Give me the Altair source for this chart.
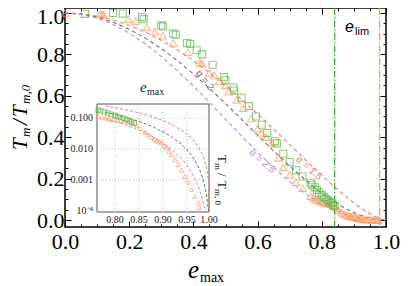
import altair as alt
import pandas as pd

SERIF = "Liberation Serif"
SANS = "Liberation Sans"

# ---------------- data ----------------
e_grid = [0.0, 0.05, 0.1, 0.15, 0.2, 0.25, 0.3, 0.35, 0.4, 0.45, 0.5, 0.55, 0.6, 0.65,
          0.7, 0.75, 0.78, 0.8, 0.82, 0.84, 0.86, 0.88, 0.9, 0.92, 0.94, 0.95, 0.96,
          0.97, 0.975, 0.98, 0.985, 0.99, 0.995, 0.999, 1.0]
T_alpha15 = [1.0, 0.99625, 0.98504, 0.96644, 0.94061, 0.90773, 0.86809, 0.822, 0.76987,
             0.71219, 0.64952, 0.58252, 0.512, 0.43886, 0.36421, 0.28938, 0.24506, 0.216,
             0.18751, 0.15974, 0.13288, 0.10715, 0.08282, 0.0602, 0.03971, 0.03044, 0.02195,
             0.01437, 0.01097, 0.00788, 0.005138, 0.002807, 0.000996, 0.0000894, 0.0]
T_alpha20 = [1.0, 0.99501, 0.9801, 0.95551, 0.9216, 0.87891, 0.8281, 0.77001, 0.7056,
             0.63601, 0.5625, 0.48651, 0.4096, 0.33351, 0.2601, 0.19141, 0.15335, 0.1296,
             0.10732, 0.08667, 0.06781, 0.0509, 0.0361, 0.02359, 0.01355, 0.009506, 0.006147,
             0.003493, 0.002438, 0.001568, 0.000887, 0.000396, 0.0000995, 0.000004, 0.0]
T_alpha25 = [1.0, 0.99377, 0.97519, 0.9447, 0.90298, 0.851, 0.78996, 0.72131, 0.6467,
             0.56798, 0.48714, 0.40632, 0.32768, 0.25344, 0.18575, 0.12661, 0.09596, 0.07776,
             0.06143, 0.04703, 0.0346, 0.02418, 0.01574, 0.009245, 0.004623, 0.002968,
             0.001721, 0.000849, 0.000542, 0.000312, 0.000153, 0.0000559, 0.00000994,
             0.00000018, 0.0]
alpha_names = ["1.5", "2", "2.5"]
alpha_texts = ["\u03b1 = 1.5", "\u03b1 = 2", "\u03b1 = 2.5"]

sq_e = [0.062, 0.15, 0.18, 0.24, 0.245, 0.3, 0.305, 0.337, 0.345, 0.38, 0.39, 0.41, 0.427,
        0.46, 0.495, 0.5, 0.525, 0.527, 0.55, 0.573, 0.595, 0.613, 0.63, 0.654, 0.66, 0.68,
        0.7, 0.72, 0.74, 0.765, 0.77, 0.778, 0.785, 0.792, 0.8, 0.806, 0.812, 0.818, 0.824,
        0.83, 0.835, 0.84]
sq_T = [0.996, 1.0, 0.997, 0.98, 0.97, 0.94, 0.935, 0.9, 0.895, 0.855, 0.85, 0.82, 0.8,
        0.75, 0.69, 0.675, 0.64, 0.625, 0.59, 0.55, 0.5, 0.46, 0.42, 0.38, 0.37, 0.32,
        0.28, 0.24, 0.21, 0.18, 0.17, 0.158, 0.145, 0.132, 0.12, 0.112, 0.104, 0.097, 0.09,
        0.082, 0.074, 0.068]

tri_e = [0.0, 0.11, 0.115, 0.12, 0.197, 0.22, 0.255, 0.28, 0.305, 0.337, 0.383, 0.42, 0.427,
         0.45, 0.465, 0.48, 0.5, 0.51, 0.535, 0.555, 0.58, 0.6, 0.613, 0.628, 0.645, 0.665,
         0.68, 0.7, 0.72, 0.74, 0.765, 0.773, 0.78, 0.788, 0.796, 0.804, 0.812, 0.82, 0.828,
         0.836, 0.845, 0.853, 0.8625, 0.87, 0.876, 0.882, 0.887, 0.892, 0.897, 0.903, 0.908,
         0.913, 0.918, 0.925, 0.932, 0.939, 0.946, 0.953, 0.96, 0.967, 0.974, 0.976]
tri_T = [1.0, 0.995, 0.995, 0.99, 0.97, 0.96, 0.93, 0.91, 0.89, 0.855, 0.81, 0.76, 0.755,
         0.71, 0.7, 0.67, 0.65, 0.62, 0.58, 0.54, 0.49, 0.44, 0.42, 0.4, 0.37, 0.3, 0.255,
         0.217, 0.183, 0.154, 0.115, 0.108, 0.1, 0.095, 0.09, 0.086, 0.082, 0.079, 0.075,
         0.068, 0.058, 0.046, 0.035, 0.029, 0.024, 0.021, 0.0185, 0.017, 0.016, 0.013, 0.011,
         0.0085, 0.0066, 0.0045, 0.0031, 0.0021, 0.0013, 0.00086, 0.0005, 0.0003, 0.00018,
         0.00013]

e_lim = [0.84, 0.98]
lim_names = ["squares", "triangles"]

x_major = [0.0, 0.2, 0.4, 0.6, 0.8, 1.0]
y_major_low = [0.0, 0.2, 0.4, 0.6, 0.8]
y_major_top = [1.0]
y_major = [0.0, 0.2, 0.4, 0.6, 0.8, 1.0]
minor_ticks = [0.05, 0.1, 0.15, 0.25, 0.3, 0.35, 0.45, 0.5, 0.55, 0.65, 0.7, 0.75,
               0.85, 0.9, 0.95]
inset_x_ticks = [0.80, 0.85, 0.90, 0.95, 1.00]
inset_y_ticks = [0.0001, 0.001, 0.01, 0.1]
inset_y_labels = ["10\u207b\u2074", "0.001", "0.010", "0.100"]

# ---------------- styles ----------------
GREEN = "#5cb848"
ORANGE = "#ff9a5a"
alpha_colors = ["#f07a7a", "#707070", "#b48ede"]
lim_colors = ["#3db03d", "#ff9933"]
INK = "#222222"

curves = pd.DataFrame({
    "e": e_grid * 3,
    "T": T_alpha15 + T_alpha20 + T_alpha25,
    "alpha": [n for n in alpha_names for _ in e_grid],
})
squares = pd.DataFrame({"e": sq_e, "T": sq_T})
triangles = pd.DataFrame({"e": tri_e, "T": tri_T})
lims = pd.DataFrame({"e": e_lim, "kind": lim_names})

# anchor points (data units) of the alpha annotations
alpha_labels = pd.DataFrame({
    "e": [0.76, 0.436, 0.614],
    "T": [0.25, 0.675, 0.284],
    "ang": [41, 52, 41],
    "alpha": alpha_names,
    "label": alpha_texts,
})

XS = alt.Scale(domain=[0.0, 1.0], nice=False, zero=False)
YS = alt.Scale(domain=[-0.0338, 1.024], nice=False, zero=False)
alpha_scale = alt.Scale(domain=alpha_names, range=alpha_colors)


def frame_axis(orient, values, size, labels=False, fmt=".1f", pad=2, loff=0):
    kw = dict(orient=orient, values=values, tickSize=size, offset=-size, domain=False,
              grid=False, title=None, labels=labels, ticks=True, tickColor="black",
              tickWidth=1)
    if labels:
        kw.update(format=fmt, labelFont=SERIF, labelFontSize=22, labelColor="black",
                  labelPadding=pad, labelFlush=False, labelOverlap=False, labelOffset=loff)
    return alt.Axis(**kw)


curves_main = alt.Chart(curves).mark_line(strokeDash=[4, 3], strokeWidth=1.1).encode(
    x=alt.X("e:Q", scale=XS, axis=frame_axis("bottom", x_major, 6, True, ".1f", 4)),
    y=alt.Y("T:Q", scale=YS, axis=frame_axis("left", y_major_low, 6, True, ".1f", 1)),
    color=alt.Color("alpha:N", scale=alpha_scale, legend=None),
)

rules = alt.Chart(lims).mark_rule(strokeDash=[7, 2, 1.5, 2], strokeWidth=1.3).encode(
    x=alt.X("e:Q", scale=XS, axis=frame_axis("bottom", minor_ticks, 3)),
    color=alt.Color("kind:N", scale=alt.Scale(domain=lim_names, range=lim_colors), legend=None),
)

tri_main = alt.Chart(triangles).mark_point(
    shape="triangle-up", size=55, filled=False, strokeWidth=1.1, color=ORANGE
).encode(
    x=alt.X("e:Q", scale=XS, axis=None),
    y=alt.Y("T:Q", scale=YS, axis=frame_axis("left", y_major_top, 6, True, ".1f", 1, 4)),
)

sq_main = alt.Chart(squares).mark_point(
    shape="square", size=50, filled=False, strokeWidth=1.1, color=GREEN
).encode(
    x=alt.X("e:Q", scale=XS, axis=frame_axis("top", x_major, 6)),
    y=alt.Y("T:Q", scale=YS, axis=frame_axis("right", y_major, 6)),
)

alpha_text = alt.Chart(alpha_labels).mark_text(
    font=SANS, fontSize=10, align="center", baseline="middle"
).encode(
    x=alt.X("e:Q", scale=XS, axis=frame_axis("top", minor_ticks, 3)),
    y=alt.Y("T:Q", scale=YS, axis=frame_axis("right", minor_ticks, 3)),
    text="label:N",
    angle=alt.Angle("ang:Q", scale=None),
    color=alt.Color("alpha:N", scale=alpha_scale, legend=None),
)

minor_left = alt.Chart(pd.DataFrame({"T": minor_ticks})).mark_tick(opacity=0).encode(
    y=alt.Y("T:Q", scale=YS, axis=frame_axis("left", minor_ticks, 3)),
)

main = alt.layer(curves_main, rules, tri_main, sq_main, alpha_text, minor_left).resolve_axis(
    x="independent", y="independent"
).resolve_scale(color="independent")

# ---------------- inset ----------------
IX0, IX1 = 0.7625, 0.996
IY0, IY1 = 0.000093, 0.283
IXS = alt.Scale(domain=[IX0, IX1], range=[32, 144], nice=False, zero=False, clamp=True)
IYS = alt.Scale(type="log", domain=[IY0, IY1], range=[204, 96], nice=False, clamp=True)

inset_box = pd.DataFrame({"x0": [IX0], "x1": [IX1], "y0": [IY0], "y1": [IY1]})
inset_xt = pd.DataFrame({"v": inset_x_ticks})
inset_yt = pd.DataFrame({"v": inset_y_ticks, "label": inset_y_labels})

inset_frame = alt.Chart(inset_box).mark_rect(fill="white", stroke="#555555", strokeWidth=1).encode(
    x=alt.X("x0:Q", scale=IXS, axis=None), x2="x1:Q",
    y=alt.Y("y0:Q", scale=IYS, axis=None), y2="y1:Q",
)

grid_v = alt.Chart(inset_xt).transform_filter(f"datum.v < {IX1}").transform_calculate(
    y0=f"{IY0}", y1=f"{IY1}"
).mark_rule(strokeDash=[1, 2], color="#bdbdbd", strokeWidth=1).encode(
    x=alt.X("v:Q", scale=IXS, axis=None),
    y=alt.Y("y0:Q", scale=IYS, axis=None), y2="y1:Q",
)

grid_h = alt.Chart(inset_yt).transform_calculate(
    x0=f"{IX0}", x1=f"{IX1}"
).mark_rule(strokeDash=[1, 2], color="#bdbdbd", strokeWidth=1).encode(
    y=alt.Y("v:Q", scale=IYS, axis=None),
    x=alt.X("x0:Q", scale=IXS, axis=None), x2="x1:Q",
)

xlab = alt.Chart(inset_xt).transform_calculate(
    label="format(datum.v, '.2f')"
).mark_text(font=SERIF, fontSize=10, color=INK, baseline="middle", align="center").encode(
    x=alt.X("v:Q", scale=IXS, axis=None), y=alt.value(212), text="label:N",
)

ylab = alt.Chart(inset_yt).mark_text(
    font=SERIF, fontSize=10, color=INK, baseline="middle", align="right"
).encode(
    y=alt.Y("v:Q", scale=IYS, axis=None), x=alt.value(28), text="label:N",
)

inset_curves = alt.Chart(curves).transform_filter(
    "datum.e >= 0.76 && datum.T > 0.00002"
).mark_line(strokeDash=[3, 2], strokeWidth=1).encode(
    x=alt.X("e:Q", scale=IXS, axis=None),
    y=alt.Y("T:Q", scale=IYS, axis=None),
    color=alt.Color("alpha:N", scale=alpha_scale, legend=None),
)

inset_tri = alt.Chart(triangles).transform_filter("datum.e >= 0.762").mark_point(
    shape="triangle-up", size=22, filled=False, strokeWidth=1, color=ORANGE
).encode(x=alt.X("e:Q", scale=IXS, axis=None), y=alt.Y("T:Q", scale=IYS, axis=None))

inset_sq = alt.Chart(squares).transform_filter("datum.e >= 0.762").mark_point(
    shape="square", size=20, filled=False, strokeWidth=1, color=GREEN
).encode(x=alt.X("e:Q", scale=IXS, axis=None), y=alt.Y("T:Q", scale=IYS, axis=None))

inset = alt.layer(inset_frame, grid_v, grid_h, inset_curves, inset_tri, inset_sq, xlab, ylab)

# ---------------- text annotations ----------------
ONE = pd.DataFrame({"k": [0]})


def txt(s, x, y, size, family=SERIF, style="normal", angle=0, color="black"):
    return alt.Chart(ONE).mark_text(
        text=s, font=family, fontSize=size, fontStyle=style, angle=angle, color=color,
        align="left", baseline="alphabetic"
    ).encode(x=alt.value(x), y=alt.value(y))


notes = [
    # x axis title  e_max
    txt("e", 123, 270, 25, style="italic"),
    txt("max", 135, 274, 14),
    # y axis title  T_m / T_m,0
    txt("T", -38, 142, 21, style="italic", angle=270),
    txt("m", -35, 129, 13, style="italic", angle=270),
    txt("/", -38, 117, 21, style="italic", angle=270),
    txt("T", -38, 109, 21, style="italic", angle=270),
    txt("m,0", -35, 96, 13, style="italic", angle=270),
    # e_lim
    txt("e", 280, 24, 16, family=SANS, style="italic"),
    txt("lim", 290, 27, 11, family=SANS),
    # inset title e_max
    txt("e", 75, 84, 15, style="italic", color=INK),
    txt("max", 82, 87, 10, color=INK),
    # inset y title  T_m / T_m,0
    txt("T", 153, 147, 13, angle=90, color=INK),
    txt("m", 150, 155, 9, angle=90, color=INK),
    txt("/", 153, 165, 13, angle=90, color=INK),
    txt("T", 153, 173, 13, angle=90, color=INK),
    txt("m, 0", 150, 181, 9, angle=90, color=INK),
]

chart = alt.layer(main, inset, *notes).resolve_scale(
    x="independent", y="independent", color="independent"
).properties(
    width=321, height=219,
    padding={"left": 57, "top": 0, "right": 15, "bottom": 59},
    autosize=alt.AutoSizeParams(type="none"),
).configure_view(stroke="black", strokeWidth=1.5)

chart.save("out.html", embed_options={"renderer": "svg", "actions": False})
